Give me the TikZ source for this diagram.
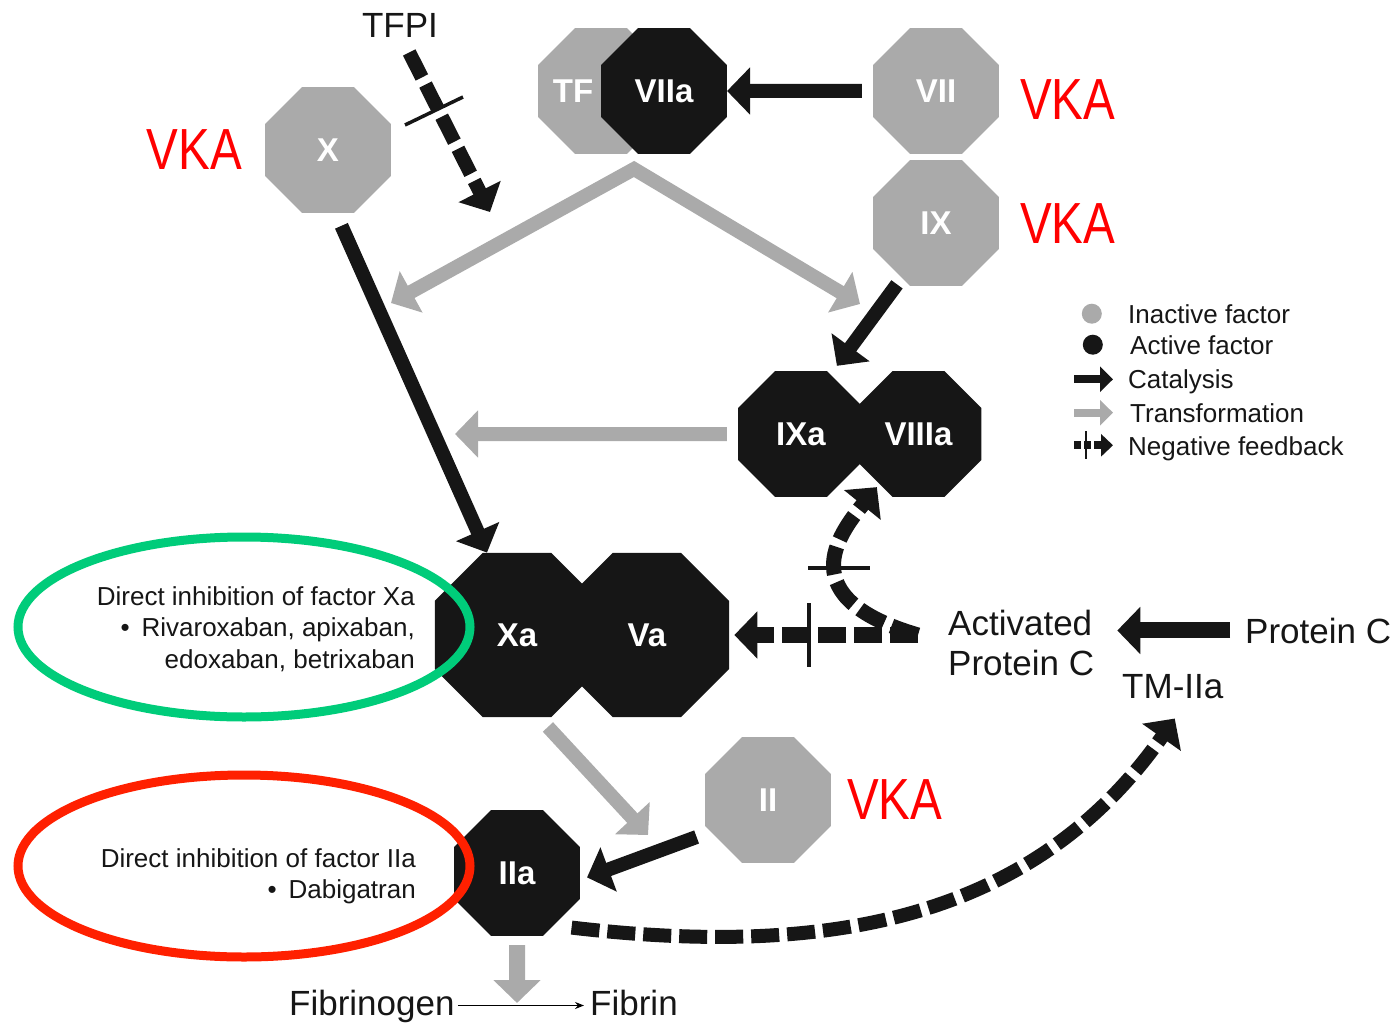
\documentclass[tikz,border=0pt]{standalone}
\usepackage{fontspec}
\setmainfont{Liberation Sans}
\newfontfamily\vkafont[FakeStretch=0.82]{Liberation Sans}
\usetikzlibrary{positioning,shapes.geometric,arrows.meta}
\definecolor{factorgray}{RGB}{170,170,170}
\definecolor{factorblack}{RGB}{22,22,22}
\definecolor{xagreen}{RGB}{0,204,122}
\definecolor{iiared}{RGB}{255,32,0}
\newcommand\factorfont{\fontsize{33}{36}\selectfont\bfseries}
\newcommand\labelfont{\fontsize{35}{40}\selectfont}
\newcommand\legendfont{\fontsize{26}{31.5}\selectfont}

\begin{document}
\begin{tikzpicture}[
        x=1pt, y=-1pt,
        bigtip/.tip={Triangle[length=23pt,width=46pt]},
        inactive/.style={
            regular polygon, regular polygon sides=8, minimum size=136pt,
            inner sep=0pt, fill=factorgray, text=white, font=\factorfont
        },
        active/.style={inactive, fill=factorblack},
        complex/.style={minimum size=178pt},
        catal/.style={draw=factorblack, line width=14pt, -bigtip},
        transf/.style={draw=factorgray, line width=14pt, -bigtip},
        negfb/.style={draw=factorblack, line width=14pt, dash pattern=on 28pt off 8pt, -bigtip},
        crossbar/.style={draw=factorblack, line width=3.5pt},
        vka/.style={text=red, inner sep=0pt, font=\vkafont\fontsize{58}{60}\selectfont},
        textlabel/.style={inner sep=0pt, text=factorblack, font=\labelfont},
        legendtext/.style={inner sep=0pt, anchor=base west, text=factorblack, font=\legendfont},
        ellipsetext/.style={inner sep=0pt, align=right, text=factorblack, font=\legendfont},
    ]
    \useasboundingbox (0,0) rectangle (1396,1022);

    \node (tf) [inactive] at (601,91) {\makebox[0pt]{TF\hspace*{56pt}}};
    \node (viia) [active] at (664,91) {VIIa};
    \node (vii) [inactive] at (936,91) {VII};
    \node (vkavii) [vka, right=21pt of vii, yshift=-9pt] {VKA};
    \path (vii) edge[catal, shorten <=11pt] (viia);

    \node (ix) [inactive, below=6pt of vii] {IX};
    \node (vkaix) [vka, right=21pt of ix] {VKA};

    \node (x) [inactive] at (328,150) {X};
    \node (vkax) [vka, left=23pt of x] {VKA};

    \node (tfpi) [textlabel, anchor=base] at (400,38) {TFPI};
    \coordinate (tfpitip) at (490,212);
    \draw[negfb, shorten <=16pt] ([xshift=2pt]tfpi.south) -- (tfpitip);
    \draw[crossbar] (405,125) -- (463,97);

    \coordinate (roofleft) at (391,303);
    \coordinate (apex) at (634,169);
    \coordinate (roofright) at (860,304);
    \draw[transf, bigtip-bigtip, line join=miter] (roofleft) -- (apex) -- (roofright);

    \node (ixa) [active] at (801,434) {IXa};
    \node (viiia) [active, right=-8.6pt of ixa] {VIIIa};
    \draw[catal, shorten <=8pt] (ix.238) -- ([xshift=5pt,yshift=10pt]ixa.62);
    \coordinate (xtransf) at (455,434);
    \draw[transf, shorten <=11pt] (ixa.west) -- (xtransf);

    \node (xa) [active, complex] at (517,635) {Xa};
    \node (va) [active, complex, right=-35pt of xa] {Va};
    \draw[catal, shorten <=14pt] (x.277) -- (xa.110);

    \node (ii) [inactive] at (768,800) {II};
    \node (vkaii) [vka, right=16pt of ii] {VKA};
    \node (iia) [active] at (517,873) {IIa};
    \coordinate (iitransf) at (648,835);
    \draw[transf, shorten <=13pt] (xa.285) -- (iitransf);
    \draw[catal, shorten <=15pt] (ii.209) -- ([xshift=7pt]iia.-4);

    \node (fibrinogen) [textlabel, anchor=base west] at (289,1015) {Fibrinogen};
    \node (fibrin) [textlabel, anchor=base west] at (590,1015) {Fibrin};
    \coordinate (fibtip) at (517,1003);
    \draw[transf, line width=16pt, shorten <=9pt] (iia.south) -- (fibtip);
    \draw[-{Stealth[length=9pt,width=7pt]}, line width=1.8pt, shorten <=3pt, shorten >=6pt]
        ([yshift=-3pt]fibrin.west -| fibrinogen.east) -- ([yshift=-3pt]fibrin.west);

    \node (apc) [textlabel, anchor=north west, align=left] at (948,610) {Activated\\Protein C};
    \node (proteinc) [textlabel, anchor=base west] at (1245,643) {Protein C};
    \node (tmiia) [textlabel, anchor=base west] at (1122,698) {TM-IIa};
    \draw[catal, line width=16pt, shorten <=15pt, shorten >=23pt] (proteinc.west) -- (proteinc.west -| apc.east);

    \draw[negfb, line width=16pt, shorten <=30pt, shorten >=5pt] (apc.west |- va.east) -- (va.east);
    \draw[crossbar] (809,603) -- (809,667);
    \draw[negfb, line width=15pt, shorten >=4pt] ([xshift=-30pt]apc.west |- va.east)
        .. controls (791,598) and (838,535) .. (viiia.232);
    \draw[crossbar] (808,568) -- (870,568);

    \draw[negfb] ([xshift=10pt,yshift=-10pt]iia.315)
        .. controls (822,957) and (1031,923) .. ([xshift=2pt,yshift=-20pt]tmiia.south);

    \node (inactlabel) [legendtext] at (1128,323) {Inactive factor};
    \node (actlabel) [legendtext] at (1130,354) {Active factor};
    \node (catlabel) [legendtext] at (1128,388) {Catalysis};
    \node (translabel) [legendtext] at (1130,422) {Transformation};
    \node (neglabel) [legendtext] at (1128,455) {Negative feedback};
    \node (inactdot) [circle, fill=factorgray, minimum size=20pt, inner sep=0pt, left=26pt of inactlabel] {};
    \node (actdot) [circle, fill=factorblack, minimum size=20pt, inner sep=0pt, left=27pt of actlabel] {};
    \draw[catal, line width=8pt, -{Triangle[length=13pt,width=25pt]}]
        ([xshift=-54pt,yshift=2pt]catlabel.west) -- ([xshift=-15pt,yshift=2pt]catlabel.west);
    \draw[transf, line width=8pt, -{Triangle[length=13pt,width=25pt]}]
        ([xshift=-56pt]translabel.west) -- ([xshift=-17pt]translabel.west);
    \draw[negfb, line width=8pt, dash pattern=on 7pt off 3pt, -{Triangle[length=12pt,width=22pt]}]
        ([xshift=-54pt,yshift=3pt]neglabel.west) -- ([xshift=-15pt,yshift=3pt]neglabel.west);
    \draw[crossbar, line width=2pt]
        ([xshift=-42pt,yshift=17pt]neglabel.west) -- ([xshift=-42pt,yshift=-11pt]neglabel.west);

    \node (xatext) [ellipsetext, anchor=north east] at (415,586)
        {Direct inhibition of factor Xa\\ \textbullet\hspace{12pt}Rivaroxaban, apixaban,\\ edoxaban, betrixaban};
    \node (iiatext) [ellipsetext, anchor=north east] at (416,848)
        {Direct inhibition of factor IIa\\ \textbullet\hspace{12pt}Dabigatran};
    \draw[xagreen, line width=9pt] (244,627) ellipse [x radius=226pt, y radius=90pt];
    \draw[iiared, line width=9pt] (244,866) ellipse [x radius=226pt, y radius=91pt];
\end{tikzpicture}
\end{document}
